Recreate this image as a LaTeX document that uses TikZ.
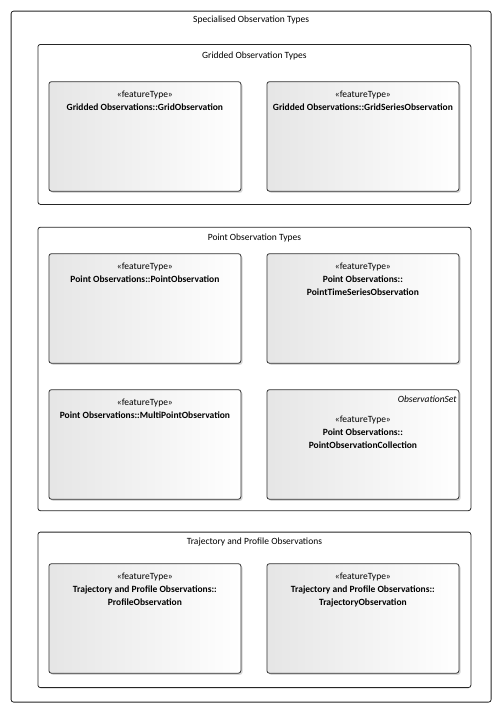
\documentclass[tikz,border=0pt]{standalone}
\usepackage{fontspec}
\setmainfont{Carlito}
\usetikzlibrary{shadows}
\tikzset{
  pkg/.style={draw=black!85, line width=0.8pt, rounded corners=2.5pt, fill=white, anchor=north west, inner sep=0pt},
  cls/.style={draw=black!80, line width=0.8pt, rounded corners=2.5pt, left color=black!10, right color=white,
    anchor=north west, inner sep=0pt, minimum width=192pt, minimum height=109.5pt,
    drop shadow={shadow xshift=1.6pt, shadow yshift=-1.6pt, opacity=0.25, fill=black!60}},
  ttl/.style={font=\fontsize{9.5}{11}\selectfont, anchor=base, inner sep=0pt},
  txt/.style={font=\fontsize{9.5}{13}\selectfont, align=center, anchor=north, inner sep=0pt},
}
\begin{document}
\begin{tikzpicture}[x=1pt,y=-1pt]
\useasboundingbox (0,0) rectangle (502,712);
% outer frame
\node[pkg, minimum width=480pt, minimum height=691pt] (outer) at (10.7,10.7) {};
\node[ttl] (outert) at ([yshift=-12.3pt]outer.north) {Specialised Observation Types};
% Gridded package
\node[pkg, minimum width=433pt, minimum height=160pt] (gp) at (37.5,44) {};
\node[ttl] (gpt) at ([yshift=-14pt]gp.north) {Gridded Observation Types};
\node[cls] (g1) at (48.5,81.3) {};
\node[cls] (g2) at (266.5,81.3) {};
\node[txt] (g1t) at ([yshift=-9.3pt]g1.north) {«featureType»\\\textbf{Gridded Observations::GridObservation}};
\node[txt] (g2t) at ([yshift=-9.3pt]g2.north) {«featureType»\\\textbf{Gridded Observations::GridSeriesObservation}};
% Point package
\node[pkg, minimum width=433pt, minimum height=283.5pt] (pp) at (37.5,226.8) {};
\node[ttl] (ppt) at ([yshift=-14pt]pp.north) {Point Observation Types};
\node[cls] (p1) at (48.5,253.3) {};
\node[cls] (p2) at (266.5,253.3) {};
\node[cls] (p3) at (48.5,389.3) {};
\node[cls] (p4) at (266.5,389.3) {};
\node[txt] (p1t) at ([yshift=-9.3pt]p1.north) {«featureType»\\\textbf{Point Observations::PointObservation}};
\node[txt] (p2t) at ([yshift=-9.3pt]p2.north) {«featureType»\\\textbf{Point Observations::}\\\textbf{PointTimeSeriesObservation}};
\node[txt] (p3t) at ([yshift=-9.3pt]p3.north) {«featureType»\\\textbf{Point Observations::MultiPointObservation}};
\node[ttl, anchor=base east] (p4s) at ([xshift=-2.5pt,yshift=-13.5pt]p4.north east) {\itshape ObservationSet};
\node[txt] (p4t) at ([yshift=-26pt]p4.north) {«featureType»\\\textbf{Point Observations::}\\\textbf{PointObservationCollection}};
% Trajectory package
\node[pkg, minimum width=433pt, minimum height=155.5pt] (tp) at (37.5,531.7) {};
\node[ttl] (tpt) at ([yshift=-13pt]tp.north) {Trajectory and Profile Observations};
\node[cls] (t1) at (48.5,563.3) {};
\node[cls] (t2) at (266.5,563.3) {};
\node[txt] (t1t) at ([yshift=-9.3pt]t1.north) {«featureType»\\\textbf{Trajectory and Profile Observations::}\\\textbf{ProfileObservation}};
\node[txt] (t2t) at ([yshift=-9.3pt]t2.north) {«featureType»\\\textbf{Trajectory and Profile Observations::}\\\textbf{TrajectoryObservation}};
\end{tikzpicture}
\end{document}
